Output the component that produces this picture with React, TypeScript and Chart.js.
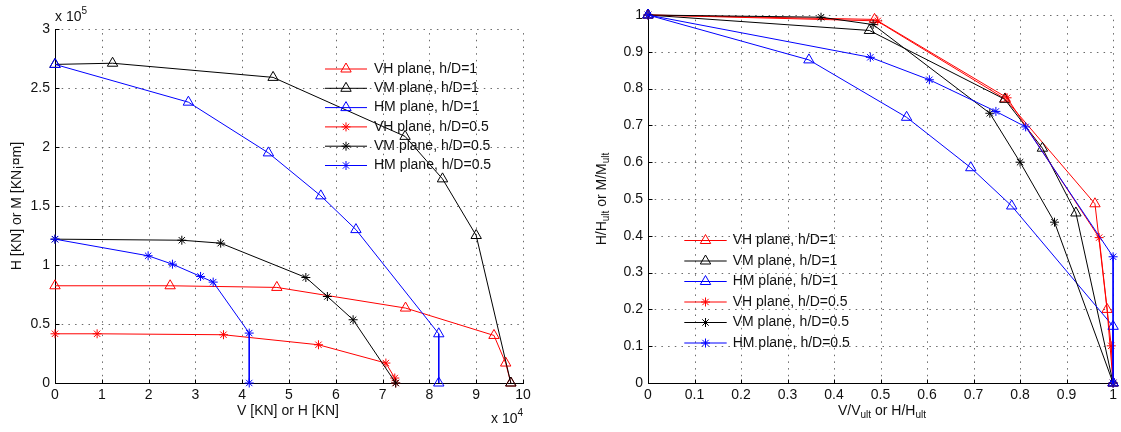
import React, { useEffect, useRef } from 'react';
import { Chart, registerables } from 'chart.js';

Chart.register(...registerables);

const FONT = '"Liberation Sans", Arial, Helvetica, sans-serif';
const TEXT = '#111111';

// ---- Left panel: absolute capacities (V, H in kN; M in kN·m) ----
const vhV1 = [0, 24600, 47400, 74900, 93800, 96300, 97400];
const vhH1 = [82400, 82400, 81000, 63500, 40300, 16900, 0];
const vmV1 = [0, 12300, 46600, 74800, 82800, 90000, 97400];
const vmM1 = [270000, 271000, 259000, 209000, 173000, 125000, 0];
const hmH1 = [0, 28500, 45600, 56800, 64300, 82000, 82000];
const hmM1 = [270000, 238000, 195000, 158600, 130000, 41700, 0];
const vhV05 = [0, 9000, 36000, 56300, 70700, 72600, 72800];
const vhH05 = [41700, 41700, 40900, 32400, 16900, 4200, 0];
const vmV05 = [0, 27100, 35400, 53600, 58200, 63700, 72800];
const vmM05 = [121900, 121000, 118500, 89400, 73300, 53600, 0];
const hmH05 = [0, 19900, 25100, 31100, 33800, 41500, 41500];
const hmM05 = [121900, 107800, 100700, 90300, 85500, 42300, 0];

const leftXTicks = [0, 10000, 20000, 30000, 40000, 50000, 60000, 70000, 80000, 90000, 100000];
const leftYTicks = [0, 50000, 100000, 150000, 200000, 250000, 300000];

// ---- Right panel: normalised capacities ----
const nVH1x = [0, 0.487, 0.768, 0.961, 0.987, 1];
const nVH1y = [1, 0.988, 0.772, 0.487, 0.2, 0];
const nVM1x = [0, 0.476, 0.767, 0.848, 0.92, 1];
const nVM1y = [1, 0.958, 0.771, 0.638, 0.462, 0];
const nHM1x = [0, 0.346, 0.556, 0.694, 0.782, 1, 1];
const nHM1y = [1, 0.878, 0.722, 0.585, 0.481, 0.154, 0];
const nVH05x = [0, 0.494, 0.772, 0.97, 0.996, 1];
const nVH05y = [1, 0.984, 0.775, 0.395, 0.101, 0];
const nVM05x = [0, 0.372, 0.484, 0.735, 0.8, 0.874, 1];
const nVM05y = [1, 0.994, 0.974, 0.733, 0.6, 0.437, 0];
const nHM05x = [0, 0.478, 0.605, 0.748, 0.812, 1, 1];
const nHM05y = [1, 0.885, 0.824, 0.738, 0.696, 0.343, 0];

const rightTicks = [0, 0.1, 0.2, 0.3, 0.4, 0.5, 0.6, 0.7, 0.8, 0.9, 1];

const seriesLabels = [
  'VH plane, h/D=1',
  'VM plane, h/D=1',
  'HM plane, h/D=1',
  'VH plane, h/D=0.5',
  'VM plane, h/D=0.5',
  'HM plane, h/D=0.5',
];
const seriesColors = ['#ff0000', '#000000', '#0000ff', '#ff0000', '#000000', '#0000ff'];
const seriesMarkers: ('triangle' | 'star')[] = ['triangle', 'triangle', 'triangle', 'star', 'star', 'star'];

type Seg = { t: string; sub?: boolean; sup?: boolean };

function drawRich(ctx: CanvasRenderingContext2D, segs: Seg[], x: number, y: number, align: 'left' | 'center', rotate = false) {
  ctx.save();
  ctx.translate(x, y);
  if (rotate) ctx.rotate(-Math.PI / 2);
  ctx.textBaseline = 'middle';
  ctx.textAlign = 'left';
  ctx.fillStyle = TEXT;
  const fontFor = (s: Seg) => `${s.sub || s.sup ? 10 : 14}px ${FONT}`;
  let w = 0;
  for (const s of segs) {
    ctx.font = fontFor(s);
    w += ctx.measureText(s.t).width;
  }
  let cx = align === 'center' ? -w / 2 : 0;
  for (const s of segs) {
    ctx.font = fontFor(s);
    ctx.fillText(s.t, cx, s.sub ? 4 : s.sup ? -6 : 0);
    cx += ctx.measureText(s.t).width;
  }
  ctx.restore();
}

function drawMarker(ctx: CanvasRenderingContext2D, style: 'triangle' | 'star', x: number, y: number, color: string) {
  ctx.save();
  ctx.strokeStyle = color;
  ctx.lineWidth = 1;
  ctx.beginPath();
  if (style === 'triangle') {
    const r = 6;
    for (let k = 0; k < 3; k++) {
      const a = (k * 2 * Math.PI) / 3;
      const px = x + Math.sin(a) * r;
      const py = y - Math.cos(a) * r;
      if (k === 0) ctx.moveTo(px, py);
      else ctx.lineTo(px, py);
    }
    ctx.closePath();
  } else {
    const r = 4.5;
    const d = r * Math.SQRT1_2;
    ctx.moveTo(x - r, y); ctx.lineTo(x + r, y);
    ctx.moveTo(x, y - r); ctx.lineTo(x, y + r);
    ctx.moveTo(x - d, y - d); ctx.lineTo(x + d, y + d);
    ctx.moveTo(x - d, y + d); ctx.lineTo(x + d, y - d);
  }
  ctx.stroke();
  ctx.restore();
}

type PanelDecor = {
  xTicks: number[];
  yTicks: number[];
  legend: { x1: number; x2: number; textX: number; top: number; step: number };
  texts: { segs: Seg[]; x: number; y: number; align: 'left' | 'center'; rotate?: boolean }[];
};

function decorPlugin(d: PanelDecor) {
  return {
    id: 'panelDecor',
    beforeDatasetsDraw(chart: any) {
      const { ctx, chartArea: a, scales } = chart;
      const sx = scales.x;
      const sy = scales.y;
      ctx.save();
      ctx.lineWidth = 1;
      // dotted grid
      ctx.strokeStyle = '#6a6a6a';
      ctx.setLineDash([1.5, 5.2]);
      for (const v of d.xTicks) {
        const px = Math.round(sx.getPixelForValue(v)) + 0.5;
        ctx.beginPath();
        ctx.moveTo(px, a.bottom);
        ctx.lineTo(px, a.top);
        ctx.stroke();
      }
      for (const v of d.yTicks) {
        const py = Math.round(sy.getPixelForValue(v)) + 0.5;
        ctx.beginPath();
        ctx.moveTo(a.left, py);
        ctx.lineTo(a.right, py);
        ctx.stroke();
      }
      ctx.setLineDash([]);
      // axis lines and inward tick marks
      ctx.strokeStyle = '#000';
      const left = Math.round(a.left) + 0.5;
      const bottom = Math.round(a.bottom) + 0.5;
      ctx.beginPath();
      ctx.moveTo(left, Math.round(a.top));
      ctx.lineTo(left, bottom);
      ctx.lineTo(Math.round(a.right) + 1, bottom);
      ctx.stroke();
      ctx.beginPath();
      for (const v of d.xTicks) {
        const px = Math.round(sx.getPixelForValue(v)) + 0.5;
        ctx.moveTo(px, bottom);
        ctx.lineTo(px, bottom - 4);
      }
      for (const v of d.yTicks) {
        const py = Math.round(sy.getPixelForValue(v)) + 0.5;
        ctx.moveTo(left, py);
        ctx.lineTo(left + 4, py);
      }
      ctx.stroke();
      ctx.restore();
    },
    afterDatasetsDraw(chart: any) {
      const ctx: CanvasRenderingContext2D = chart.ctx;
      const L = d.legend;
      ctx.save();
      chart.data.datasets.forEach((ds: any, i: number) => {
        const y = L.top + i * L.step;
        ctx.strokeStyle = ds.borderColor;
        ctx.lineWidth = 1;
        ctx.beginPath();
        ctx.moveTo(L.x1, y);
        ctx.lineTo(L.x2, y);
        ctx.stroke();
        drawMarker(ctx, seriesMarkers[i], (L.x1 + L.x2) / 2, y, ds.borderColor);
        ctx.fillStyle = TEXT;
        ctx.font = `14px ${FONT}`;
        ctx.textAlign = 'left';
        ctx.textBaseline = 'middle';
        ctx.fillText(ds.label, L.textX, y);
      });
      ctx.restore();
      for (const t of d.texts) drawRich(ctx, t.segs, t.x, t.y, t.align, t.rotate);
    },
  };
}

function makeDatasets(xs: number[][], ys: number[][]) {
  return xs.map((xv, i) => ({
    label: seriesLabels[i],
    data: xv.map((x, k) => ({ x, y: ys[i][k] })),
    showLine: true,
    borderColor: seriesColors[i],
    backgroundColor: 'rgba(0,0,0,0)',
    pointBorderColor: seriesColors[i],
    pointBackgroundColor: 'rgba(0,0,0,0)',
    pointStyle: seriesMarkers[i],
    pointRadius: seriesMarkers[i] === 'triangle' ? 6 : 4.5,
    pointBorderWidth: 1,
    borderWidth: 1,
    tension: 0,
    clip: false,
    order: seriesLabels.length - i,
  }));
}

function axisOptions(ticks: number[], fmt: (v: number) => string, min: number, max: number, size: number, isX: boolean) {
  return {
    type: 'linear',
    min,
    max,
    afterBuildTicks: (s: any) => {
      s.ticks = ticks.map((value) => ({ value }));
    },
    afterFit: (s: any) => {
      if (isX) s.height = size;
      else s.width = size;
    },
    grid: { display: false, drawTicks: false },
    border: { display: false },
    ticks: {
      autoSkip: false,
      maxRotation: 0,
      minRotation: 0,
      padding: isX ? 4 : 5,
      color: TEXT,
      font: { family: FONT, size: 14 },
      callback: (v: number) => fmt(v),
    },
  };
}

function buildConfig(datasets: any[], scales: any, padding: any, plugin: any) {
  return {
    type: 'scatter',
    data: { datasets },
    options: {
      animation: false,
      responsive: false,
      devicePixelRatio: 1,
      layout: { padding },
      plugins: { legend: { display: false }, tooltip: { enabled: false } },
      events: [],
      scales,
    },
    plugins: [plugin],
  } as any;
}

export default function App() {
  const leftRef = useRef<HTMLCanvasElement>(null);
  const rightRef = useRef<HTMLCanvasElement>(null);

  useEffect(() => {
    const fmt1 = (v: number) => String(Math.round(v * 10) / 10);

    const leftPlugin = decorPlugin({
      xTicks: leftXTicks,
      yTicks: leftYTicks,
      legend: { x1: 325, x2: 367, textX: 374, top: 69, step: 19.3 },
      texts: [
        { segs: [{ t: 'x 10' }, { t: '5', sup: true }], x: 55, y: 17, align: 'left' },
        { segs: [{ t: 'x 10' }, { t: '4', sup: true }], x: 491, y: 419, align: 'left' },
        { segs: [{ t: 'V [KN] or H [KN]' }], x: 288, y: 411, align: 'center' },
        { segs: [{ t: 'H [KN] or M [KN¡¤m]' }], x: 17, y: 206, align: 'center', rotate: true },
      ],
    });
    const left = new Chart(
      leftRef.current!,
      buildConfig(
        makeDatasets([vhV1, vmV1, hmH1, vhV05, vmV05, hmH05], [vhH1, vmM1, hmM1, vhH05, vmM05, hmM05]),
        {
          x: axisOptions(leftXTicks, (v) => fmt1(v / 1e4), 0, 100000, 49, true),
          y: axisOptions(leftYTicks, (v) => fmt1(v / 1e5), 0, 300000, 55, false),
        },
        { left: 0, top: 29, right: 57, bottom: 0 },
        leftPlugin
      )
    );

    const rightPlugin = decorPlugin({
      xTicks: rightTicks,
      yTicks: rightTicks,
      legend: { x1: 104.3, x2: 146.7, textX: 152.7, top: 240.5, step: 20.5 },
      texts: [
        {
          segs: [{ t: 'V/V' }, { t: 'ult', sub: true }, { t: ' or H/H' }, { t: 'ult', sub: true }],
          x: 302,
          y: 411,
          align: 'center',
        },
        {
          segs: [{ t: 'H/H' }, { t: 'ult', sub: true }, { t: ' or M/M' }, { t: 'ult', sub: true }],
          x: 22,
          y: 199,
          align: 'center',
          rotate: true,
        },
      ],
    });
    const right = new Chart(
      rightRef.current!,
      buildConfig(
        makeDatasets([nVH1x, nVM1x, nHM1x, nVH05x, nVM05x, nHM05x], [nVH1y, nVM1y, nHM1y, nVH05y, nVM05y, nHM05y]),
        {
          x: axisOptions(rightTicks, fmt1, 0, 1, 49, true),
          y: axisOptions(rightTicks, fmt1, 0, 1, 68, false),
        },
        { left: 0, top: 15, right: 6, bottom: 0 },
        rightPlugin
      )
    );

    return () => {
      left.destroy();
      right.destroy();
    };
  }, []);

  return (
    <div style={{ position: 'fixed', left: 0, top: 0, width: 1121, height: 432, background: '#fff' }}>
      <canvas ref={leftRef} width={580} height={432} style={{ position: 'absolute', left: 0, top: 0, display: 'block' }} />
      <canvas ref={rightRef} width={541} height={432} style={{ position: 'absolute', left: 580, top: 0, display: 'block' }} />
    </div>
  );
}
